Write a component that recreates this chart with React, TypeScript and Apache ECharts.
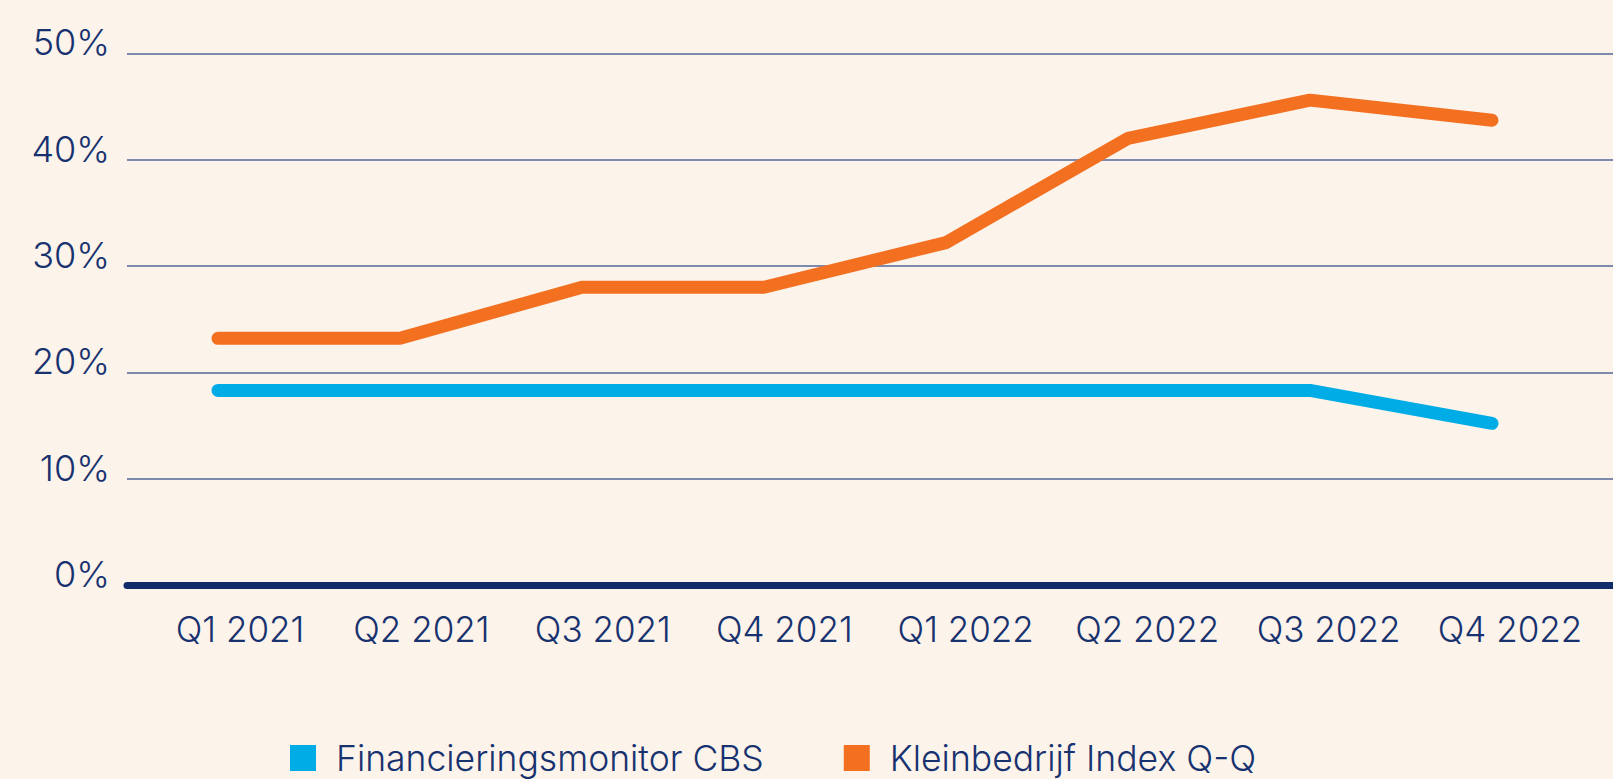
import React, { useEffect, useRef } from "react";
import * as echarts from "echarts";

const categories = ["Q1 2021", "Q2 2021", "Q3 2021", "Q4 2021", "Q1 2022", "Q2 2022", "Q3 2022", "Q4 2022"];
const cbsValues = [18.3, 18.3, 18.3, 18.3, 18.3, 18.3, 18.3, 15.2];
const kleinValues = [23.2, 23.2, 28.0, 28.0, 32.2, 42.0, 45.6, 43.7];
const seriesNames = ["Financieringsmonitor CBS", "Kleinbedrijf Index Q-Q"];
const yMin = 0;
const yMax = 50;
const yInterval = 10;

const NAVY = "#17326f";
const BLUE = "#00ace6";
const ORANGE = "#f37021";
const BG = "#fcf3eb";
const FONT = "Inter, 'Noto Sans', sans-serif";

export default function App() {
  const ref = useRef<HTMLDivElement>(null);
  useEffect(() => {
    document.body.style.margin = "0";
    document.body.style.background = BG;
    const chart = echarts.init(ref.current!, null, { renderer: "svg" });
    const top = 53.3;
    const bottom = 779 - 585;
    chart.setOption({
      animation: false,
      backgroundColor: BG,
      textStyle: { fontFamily: FONT },
      grid: [
        { left: 127, right: 0, top, bottom },
        { left: 218, right: 121, top, bottom },
        { left: 240, right: 103, top, bottom },
      ],
      xAxis: [
        {
          gridIndex: 0,
          type: "value",
          min: 0,
          max: 1,
          axisLabel: { show: false },
          axisTick: { show: false },
          splitLine: { show: false },
          axisLine: { show: true, lineStyle: { color: "#102d6a", width: 7 } },
        },
        {
          gridIndex: 1,
          type: "category",
          data: categories,
          boundaryGap: false,
          show: false,
        },
        {
          gridIndex: 2,
          type: "category",
          data: categories,
          boundaryGap: false,
          axisLine: { show: false },
          axisTick: { show: false },
          axisLabel: {
            color: NAVY,
            fontSize: 35,
            fontFamily: FONT,
            fontWeight: 300,
            margin: 24,
            lineHeight: 40,
            interval: 0,
          },
        },
      ],
      yAxis: [
        {
          gridIndex: 0,
          type: "value",
          min: yMin,
          max: yMax,
          interval: yInterval,
          axisLine: { show: false },
          axisTick: { show: false },
          splitLine: { show: true, lineStyle: { color: "#53679a", width: 1.5 } },
          axisLabel: {
            formatter: "{value}%",
            color: NAVY,
            fontSize: 36,
            fontFamily: FONT,
            fontWeight: 300,
            margin: 17,
            verticalAlign: "bottom",
            lineHeight: 22,
          },
        },
        { gridIndex: 1, type: "value", min: yMin, max: yMax, interval: yInterval, show: false },
        { gridIndex: 2, type: "value", min: yMin, max: yMax, interval: yInterval, show: false },
      ],
      legend: {
        data: seriesNames,
        left: 285,
        top: 735,
        icon: "rect",
        itemWidth: 26,
        itemHeight: 26,
        itemGap: 80,
        textStyle: {
          color: NAVY,
          fontSize: 35.5,
          fontFamily: FONT,
          fontWeight: 300,
          lineHeight: 34,
          padding: [0, 0, 0, 15],
        },
      },
      series: [
        {
          name: seriesNames[0],
          type: "line",
          xAxisIndex: 1,
          yAxisIndex: 1,
          data: cbsValues,
          showSymbol: false,
          symbol: "none",
          color: BLUE,
          lineStyle: { color: BLUE, width: 13, cap: "round", join: "bevel" },
        },
        {
          name: seriesNames[1],
          type: "line",
          xAxisIndex: 1,
          yAxisIndex: 1,
          data: kleinValues,
          showSymbol: false,
          symbol: "none",
          color: ORANGE,
          lineStyle: { color: ORANGE, width: 13, cap: "round", join: "bevel" },
        },
      ],
    });
    return () => chart.dispose();
  }, []);
  return <div ref={ref} style={{ width: 1613, height: 779 }} />;
}
